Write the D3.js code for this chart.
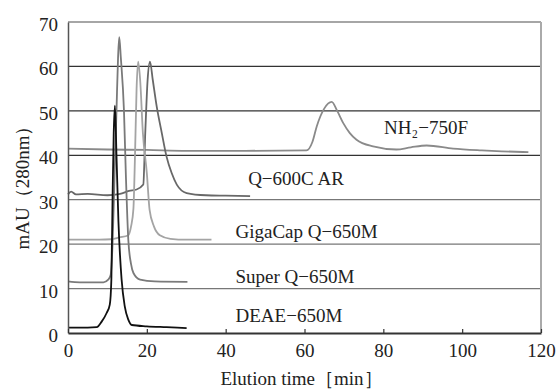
<!DOCTYPE html>
<html>
<head>
<meta charset="utf-8">
<script src="https://cdn.jsdelivr.net/npm/d3@7"></script>
<style>
  body { margin: 0; background: #fff; }
  svg text { font-family: "Liberation Serif", serif; fill: #222; }
</style>
</head>
<body>
<div id="chart"></div>
<script>
// Chromatogram data
// [time (min), absorbance (mAU)]
const DEAE = [[0,1.2],[5,1.2],[7.3,1.3],[8.5,2.5],[9.8,4.5],[10.6,6.4],[11,12],[11.3,30],[11.6,45],[11.9,51.2],
  [12.3,40],[12.8,25],[13.6,12],[14.4,6],[15.3,3],[16.2,1.8],[20,1.5],[25,1.3],[30.1,1.1]];
const SUPERQ = [[0,11.6],[3,11.4],[9,11.4],[10.2,12],[10.8,13],[11.3,20],[11.8,35],[12.3,50],[12.7,62],[13,66.6],
  [13.4,62],[14.2,50],[14.7,35],[15.3,21],[16,15.5],[16.6,13.5],[18.3,12],[22,11.6],[30.3,11.5]];
const GIGACAP = [[0,21],[8,21],[11,21.1],[13,21.5],[15.3,22],[16,24],[16.6,28],[17,40],[17.4,55],[17.8,61.1],
  [18.3,57],[19,45],[20,36],[20.7,27.7],[21.8,24],[23.3,22],[26,21.2],[30,21],[36.4,21]];
const Q600C = [[0,31.2],[0.8,31.8],[2,31.2],[5,31.3],[10,31],[13.2,31.3],[15.5,32],[17.4,32.3],[19.1,33.4],
  [19.6,45],[20.2,57],[20.8,61.1],[21.5,57],[22.5,51],[23.8,45],[25,39.7],[26.3,36],[27.6,33.4],[30.1,31.5],
  [35,31],[40,30.9],[46.2,30.8]];
const NH2 = [[0,41.5],[10,41.3],[20,41.2],[30,41],[45,41],[60.5,41.1],[62,43],[63.1,46.5],[65,50.5],[66.9,52],
  [68.3,50],[69.8,47.3],[71.5,45],[73.2,43.5],[77.4,42],[83.3,41.3],[87,41.8],[91,42.2],[97.7,41.5],
  [105,41.1],[110,40.9],[116.8,40.7]];

const SERIES_NAMES = ["DEAE−650M", "Super Q−650M", "GigaCap Q−650M", "Q−600C AR", "NH₂−750F"];
const X_TICKS = [0, 20, 40, 60, 80, 100, 120];
const Y_TICKS = [0, 10, 20, 30, 40, 50, 60, 70];

// Frame dimensions
const FRAME_WIDTH = 556;
const FRAME_HEIGHT = 389;
const MARGINS = {left: 68, right: 15, top: 22, bottom: 56};
const FONT = "'Liberation Serif', serif";
const FONT_SIZE = "19px";

const X_SCALE = d3.scaleLinear().domain([0, 120]).range([MARGINS.left, FRAME_WIDTH - MARGINS.right]);
const Y_SCALE = d3.scaleLinear().domain([0, 70]).range([FRAME_HEIGHT - MARGINS.bottom, MARGINS.top]);

const FRAME = d3.select("#chart")
  .append("svg")
    .attr("width", FRAME_WIDTH)
    .attr("height", FRAME_HEIGHT)
    .style("font-family", FONT);

// Horizontal gridlines
FRAME.selectAll(".grid")
  .data([10, 20, 30, 40, 50, 60])
  .enter()
  .append("line")
    .attr("x1", X_SCALE(0))
    .attr("x2", X_SCALE(120))
    .attr("y1", (d) => Y_SCALE(d))
    .attr("y2", (d) => Y_SCALE(d))
    .attr("stroke", (d) => d >= 40 ? "#333" : "#777")
    .attr("stroke-width", 1.2);

// Top and right borders
FRAME.append("line")
  .attr("x1", X_SCALE(0)).attr("x2", X_SCALE(120))
  .attr("y1", Y_SCALE(70)).attr("y2", Y_SCALE(70))
  .attr("stroke", "#888").attr("stroke-width", 1.5);
FRAME.append("line")
  .attr("x1", X_SCALE(120)).attr("x2", X_SCALE(120))
  .attr("y1", Y_SCALE(70)).attr("y2", Y_SCALE(0))
  .attr("stroke", "#aaa").attr("stroke-width", 2);

// Series lines
const line = d3.line()
  .x((d) => X_SCALE(d[0]))
  .y((d) => Y_SCALE(d[1]))
  .curve(d3.curveMonotoneX);

const SERIES = [
  {data: NH2, color: "#8a8a8a"},
  {data: Q600C, color: "#686868"},
  {data: GIGACAP, color: "#a4a4a4"},
  {data: SUPERQ, color: "#7a7a7a"},
  {data: DEAE, color: "#111"}
];

FRAME.selectAll(".series")
  .data(SERIES)
  .enter()
  .append("path")
    .attr("d", (d) => line(d.data))
    .attr("fill", "none")
    .attr("stroke", (d) => d.color)
    .attr("stroke-width", 1.8)
    .attr("stroke-linejoin", "round");

// Left axis
const yAxis = FRAME.append("g")
  .attr("transform", "translate(" + MARGINS.left + ",0)")
  .call(d3.axisLeft(Y_SCALE).tickValues(Y_TICKS).tickSize(0).tickPadding(10))
  .attr("font-family", null);
yAxis.select(".domain").attr("stroke", "#555").attr("stroke-width", 1.5);
yAxis.selectAll("text")
  .style("font-size", FONT_SIZE)
  .attr("fill", "#222")
  .attr("dy", "0.45em");

// Bottom axis, ticks pointing inward
const xAxis = FRAME.append("g")
  .attr("transform", "translate(0," + (FRAME_HEIGHT - MARGINS.bottom) + ")")
  .call(d3.axisBottom(X_SCALE).tickValues(X_TICKS).tickSizeInner(-4).tickSizeOuter(0).tickPadding(11))
  .attr("font-family", null);
xAxis.select(".domain").attr("stroke", "#333").attr("stroke-width", 2);
xAxis.selectAll("line").attr("stroke", "#333").attr("stroke-width", 1.2);
xAxis.selectAll("text")
  .style("font-size", FONT_SIZE)
  .attr("fill", "#222");

// Series labels
const LABEL_POS = [[42.5, 322], [42.5, 283], [42.5, 238], [45.7, 185], [80.2, 134]];
FRAME.selectAll(".label")
  .data(SERIES_NAMES)
  .enter()
  .append("text")
    .attr("x", (d, i) => X_SCALE(LABEL_POS[i][0]))
    .attr("y", (d, i) => LABEL_POS[i][1])
    .style("font-size", FONT_SIZE)
    .text((d) => d);

// Axis titles
FRAME.append("text")
  .attr("x", (X_SCALE(0) + X_SCALE(120)) / 2 - 3)
  .attr("y", 385)
  .attr("text-anchor", "middle")
  .style("font-size", FONT_SIZE)
  .text("Elution time［min］");

FRAME.append("text")
  .attr("transform", "translate(29," + 183 + ") rotate(-90)")
  .attr("text-anchor", "middle")
  .style("font-size", FONT_SIZE)
  .text("mAU（280nm）");
</script>
</body>
</html>
